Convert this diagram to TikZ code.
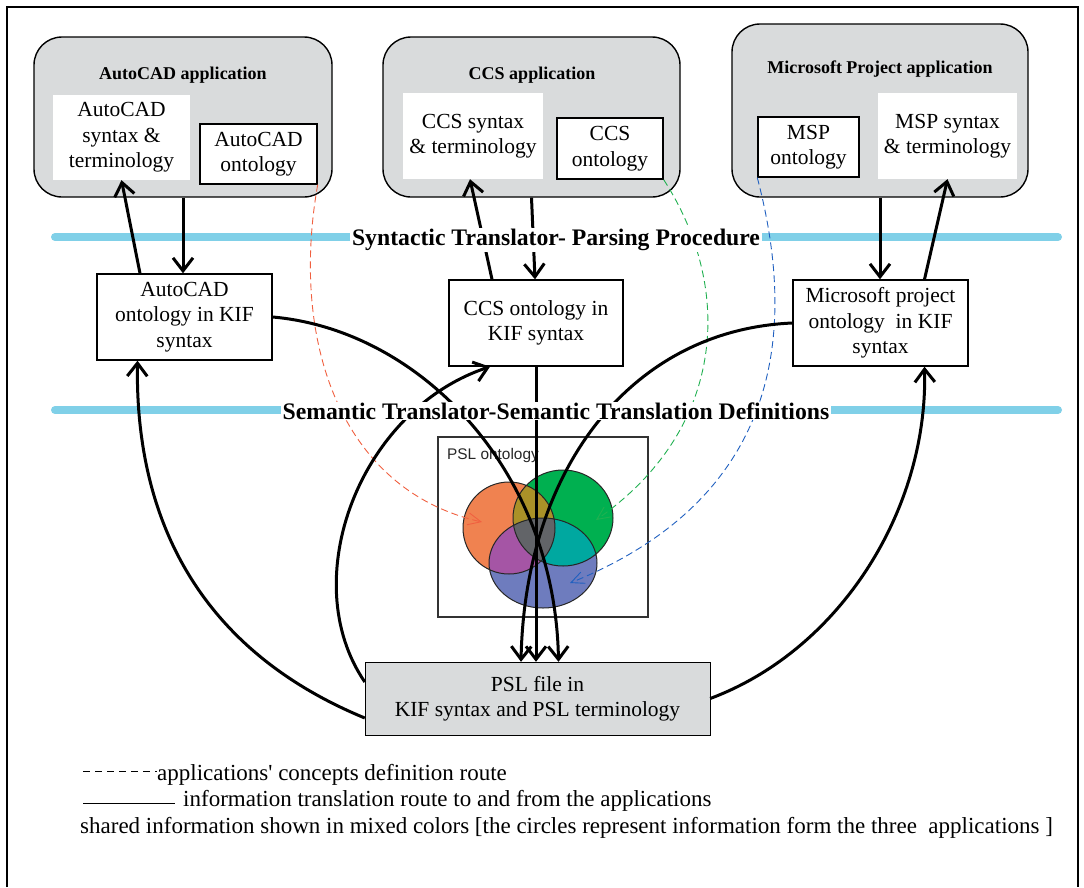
\documentclass[tikz,border=0pt]{standalone}
\usepackage{fontspec}
\setmainfont{Liberation Serif}
\newfontfamily\pslfont{Liberation Sans}
\usetikzlibrary{arrows.meta}
\definecolor{appgray}{RGB}{217,219,220}
\definecolor{barblue}{RGB}{128,208,232}
\definecolor{vorange}{RGB}{240,130,80}
\definecolor{vgreen}{RGB}{0,176,80}
\definecolor{vblue}{RGB}{110,124,190}
\definecolor{volive}{RGB}{170,145,40}
\definecolor{vpurple}{RGB}{165,85,165}
\definecolor{vteal}{RGB}{0,168,160}
\definecolor{vgray}{RGB}{98,100,104}
\definecolor{redroute}{RGB}{240,96,64}
\definecolor{greenroute}{RGB}{32,176,80}
\definecolor{blueroute}{RGB}{32,96,192}
\newcommand{\orangedisc}{(509,528) circle [radius=46pt]}
\newcommand{\greendisc}{(563,518) ellipse [x radius=50pt, y radius=48pt]}
\newcommand{\bluedisc}{(543,563) ellipse [x radius=54pt, y radius=45pt]}
\begin{document}
\begin{tikzpicture}[x=1pt, y=-1pt,
    txt/.style={font=\fontsize{21.5}{25.5}\selectfont, align=center, inner sep=0pt},
    app/.style={draw, fill=appgray, rounded corners=28pt, line width=1.4pt, inner sep=0pt},
    apptitle/.style={font=\fontsize{18}{20}\selectfont\bfseries, inner sep=0pt},
    syn/.style={txt, fill=white},
    ont/.style={txt, draw, fill=white, line width=1.4pt},
    kif/.style={txt, draw, fill=white, line width=1.4pt},
    flow/.style={line width=3pt, -{Straight Barb[length=13pt, width=20pt]}},
    route/.style={line width=0.9pt, dash pattern=on 7pt off 4pt, -{Straight Barb[length=13pt, width=12pt]}},
    band/.style={line width=8pt, barblue, line cap=round},
    bandlabel/.style={fill=white, font=\fontsize{23.7}{25}\selectfont\bfseries, inner xsep=2pt, inner ysep=1pt},
    legend/.style={anchor=west, inner sep=0pt, font=\fontsize{23}{25}\selectfont}]
  \useasboundingbox (0,0) rectangle (1084,887);
  \draw[line width=1.4pt] (7,887) -- (7,7) -- (1078,7) -- (1078,887);

  \node[app, minimum width=298pt, minimum height=160pt] (autocadapp) at (183,117) {};
  \node[app, minimum width=297pt, minimum height=160pt] (ccsapp) at (531.5,117) {};
  \node[app, minimum width=296pt, minimum height=173pt] (mspapp) at (880,110.5) {};
  \node[apptitle] (autocadtitle) at (183,75) {AutoCAD application};
  \node[apptitle] (ccstitle) at (532,75) {CCS application};
  \node[apptitle] (msptitle) at (880,69) {Microsoft Project application};

  \node[syn, minimum width=137pt, minimum height=85pt] (autocadsyn) at (121.5,137.5) {AutoCAD\\syntax \&\\terminology};
  \node[syn, minimum width=140pt, minimum height=86pt] (ccssyn) at (473,136) {CCS syntax\\\& terminology};
  \node[syn, minimum width=139pt, minimum height=86pt] (mspsyn) at (947.5,136) {MSP syntax\\\& terminology};
  \node[ont, minimum width=117pt, minimum height=60pt] (autocadont) at (258.5,154) {AutoCAD\\ontology};
  \node[ont, minimum width=106pt, minimum height=61pt] (ccsont) at (610,148.5) {CCS\\ontology};
  \node[ont, minimum width=101pt, minimum height=60pt] (mspont) at (808.5,147) {MSP\\ontology};

  \node[kif, minimum width=175pt, minimum height=86pt] (autocadkif) at (184.5,317) {AutoCAD\\ontology in KIF\\syntax};
  \node[kif, minimum width=174pt, minimum height=86pt] (ccskif) at (536,323) {CCS ontology in\\KIF syntax};
  \node[kif, minimum width=175pt, minimum height=86pt] (mspkif) at (880.5,323) {Microsoft project\\ontology\ \ in KIF\\syntax};

  \node[draw=black!80, line width=1.4pt, minimum width=210pt, minimum height=180pt] (pslont) at (543,527) {};
  \node[txt, draw, fill=appgray, minimum width=345pt, minimum height=73pt] (pslfile) at (537.5,698.5) {PSL file in\\KIF syntax and PSL terminology};

  \draw[band] (55,237) -- (1058,237);
  \draw[band] (55,410) -- (1058,410);

  \fill[vorange] \orangedisc;
  \fill[vgreen] \greendisc;
  \fill[vblue] \bluedisc;
  \begin{scope}
    \clip \orangedisc;
    \fill[volive] \greendisc;
    \fill[vpurple] \bluedisc;
  \end{scope}
  \begin{scope}
    \clip \greendisc;
    \fill[vteal] \bluedisc;
  \end{scope}
  \begin{scope}
    \clip \orangedisc;
    \clip \greendisc;
    \fill[vgray] \bluedisc;
  \end{scope}
  \draw[black!85, line width=1pt] \orangedisc \greendisc \bluedisc;
  \node[anchor=west, inner sep=0pt, text=black!85, font=\pslfont\fontsize{15.4}{17}\selectfont] (psllabel) at (447,456) {PSL ontology};

  \coordinate (redtip) at (482,522);
  \coordinate (greentip) at (596,520);
  \coordinate (bluetip) at (570,583);
  \draw[route, redroute] (autocadont.south east) .. controls (290,340) and (340,490) .. (redtip);
  \draw[route, greenroute] (ccsont.south east) .. controls (735,290) and (725,430) .. (greentip);
  \draw[route, blueroute] (mspont.south west) .. controls (800,340) and (775,500) .. (bluetip);

  \draw[flow] ([xshift=-44.5pt]autocadkif.north) -- (autocadsyn.south);
  \draw[flow] (autocadapp.south) -- (autocadapp.south |- autocadkif.north);
  \draw[flow] ([xshift=-44pt]ccskif.north) -- ([xshift=-3pt]ccssyn.south);
  \draw[flow] (ccsapp.south) -- ([xshift=-1pt]ccskif.north);
  \draw[flow] (mspapp.south) -- (mspapp.south |- mspkif.north);
  \draw[flow] ([xshift=44pt]mspkif.north) -- (mspsyn.south);

  \draw[flow] (autocadkif.east) .. controls (420,330) and (555,470) .. ([xshift=21pt]pslfile.north);
  \draw[flow] (ccskif.south) -- (ccskif.south |- pslfile.north);
  \draw[flow] (mspkif.west) .. controls (630,330) and (525,470) .. ([xshift=-16.5pt]pslfile.north);
  \draw[flow] ([yshift=-19.5pt]pslfile.west) .. controls (200,650) and (135,520) .. ([xshift=-47pt]autocadkif.south);
  \draw[flow] ([yshift=16.5pt]pslfile.west) .. controls (295,580) and (360,410) .. ([xshift=-46pt]ccskif.south);
  \draw[flow] (pslfile.east) .. controls (840,650) and (928,510) .. ([xshift=44pt]mspkif.south);

  \node[bandlabel] (syntactic) at (556,240) {Syntactic Translator- Parsing Procedure};
  \node[bandlabel] (semantic) at (556,411) {Semantic Translator-Semantic Translation Definitions};

  \node[legend] (legdash) at (157,775) {applications\textquotesingle{} concepts definition route};
  \node[legend] (legline) at (183,801) {information translation route to and from the applications};
  \node[legend] (legmix) at (80,828) {shared information shown in mixed colors [the circles represent information form the three\ \ applications ]};
  \draw[line width=0.9pt, dash pattern=on 7pt off 5pt] ([xshift=-74pt, yshift=4pt]legdash.west) -- ([yshift=4pt]legdash.west);
  \draw[line width=0.9pt] ([xshift=-100pt, yshift=-2pt]legline.west) -- ([xshift=-8pt, yshift=-2pt]legline.west);
\end{tikzpicture}
\end{document}
